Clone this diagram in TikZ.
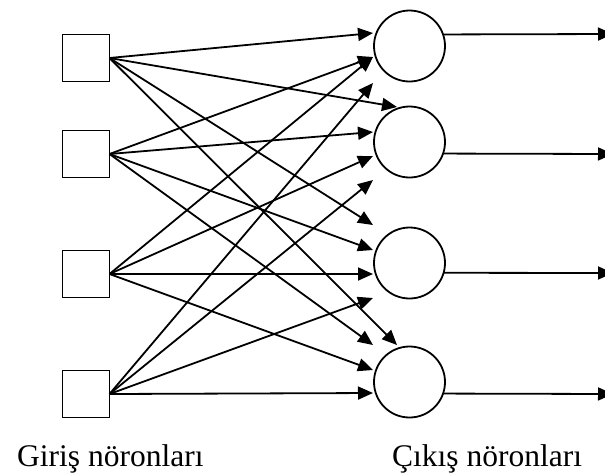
\documentclass[tikz,border=0pt]{standalone}
\usepackage{fontspec}
\setmainfont{Liberation Serif}
\usetikzlibrary{arrows.meta}
\begin{document}
\begin{tikzpicture}[x=1pt,y=-1pt,
  inbox/.style={draw, line width=1.8pt, minimum size=47pt, inner sep=0pt, outer sep=0pt},
  neuron/.style={draw, circle, line width=1.8pt, minimum size=71pt, inner sep=0pt, outer sep=0pt},
  link/.style={line width=1.8pt, -{Triangle[length=15pt,width=13pt]}},
  label text/.style={font=\fontsize{31.5}{36}\selectfont, inner sep=0pt, anchor=base west}]
\useasboundingbox (0,0) rectangle (605,475);
\clip (0,0) rectangle (605,475);

% input units
\node[inbox] (i1) at (86,58) {};
\node[inbox] (i2) at (86,154) {};
\node[inbox] (i3) at (86,274) {};
\node[inbox] (i4) at (86,394) {};

% output units
\node[neuron] (n1) at (409.5,46) {};
\node[neuron] (n2) at (409.5,142) {};
\node[neuron] (n3) at (409.5,263) {};
\node[neuron] (n4) at (409.5,382) {};

% arrow end points at each output unit
\coordinate (a1) at (373,33);
\coordinate (a2) at (373,57);
\coordinate (a3) at (373,83);
\coordinate (b1) at (397,107);
\coordinate (b2) at (373,132);
\coordinate (b3) at (373,156);
\coordinate (b4) at (373,180);
\coordinate (c1) at (373,225);
\coordinate (c2) at (373,250);
\coordinate (c3) at (373,274);
\coordinate (c4) at (373,298);
\coordinate (d1) at (397,345);
\coordinate (d2) at (373,345);
\coordinate (d3) at (373,370);
\coordinate (d4) at (373,393);

% full connections
\draw[link] (i1.east) -- (a1);
\draw[link] (i1.east) -- (b1);
\draw[link] (i1.east) -- (c1);
\draw[link] (i1.east) -- (d1);

\draw[link] (i2.east) -- (a2);
\draw[link] (i2.east) -- (b2);
\draw[link] (i2.east) -- (c2);
\draw[link] (i2.east) -- (d2);

\draw[link] (i3.east) -- (a2);
\draw[link] (i3.east) -- (b3);
\draw[link] (i3.east) -- (c3);
\draw[link] (i3.east) -- (d3);

\draw[link] (i4.east) -- (a3);
\draw[link] (i4.east) -- (b4);
\draw[link] (i4.east) -- (c4);
\draw[link] (i4.east) -- (d4);

% outputs
\coordinate (o1) at (613,34);
\coordinate (o2) at (613,154);
\coordinate (o3) at (613,273);
\coordinate (o4) at (613,394);
\draw[link] (n1.19) -- (o1);
\draw[link] (n2.-19) -- (o2);
\draw[link] (n3.-16) -- (o3);
\draw[link] (n4.-19) -- (o4);

% captions
\node[label text] (lin) at (17,466) {Giriş nöronları};
\node[label text] (lout) at (392,466) {Çıkış nöronları};
\end{tikzpicture}
\end{document}
